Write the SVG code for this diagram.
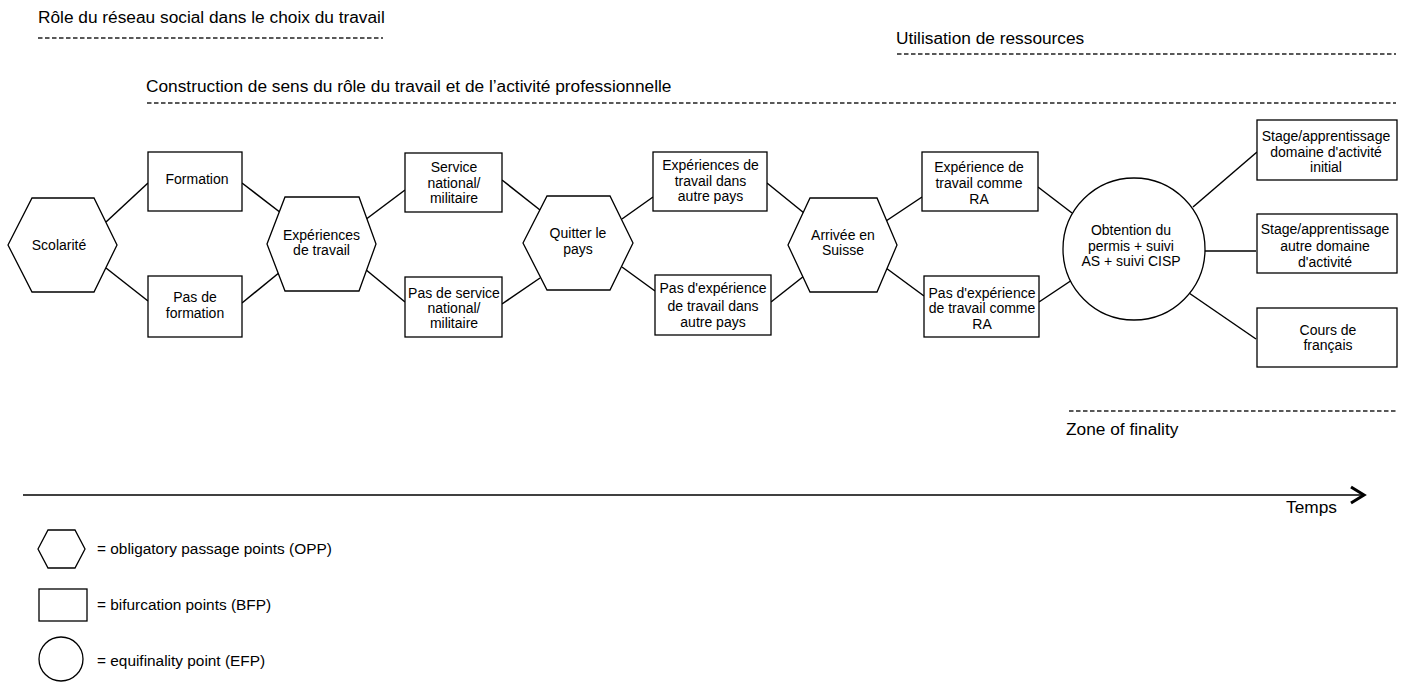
<svg xmlns="http://www.w3.org/2000/svg" width="1409" height="682" viewBox="0 0 1409 682">
<style>
  .bg{fill:#fff}
  .shape{fill:#fff;stroke:#000;stroke-width:1.3}
  .t{font-family:"Liberation Sans",Arial,sans-serif;font-size:14px;fill:#000;text-anchor:middle}
  .h{font-family:"Liberation Sans",Arial,sans-serif;font-size:17.3px;fill:#000}
  .lg{font-family:"Liberation Sans",Arial,sans-serif;font-size:15.4px;fill:#000}
  .dash{stroke:#222;stroke-width:1.3;stroke-dasharray:4.5 2.5;fill:none}
  .conn line{stroke:#000;stroke-width:1.5}
</style>
<rect class="bg" x="0" y="0" width="1409" height="682"/>

<g id="headers">
  <text class="h" x="38" y="23">Rôle du réseau social dans le choix du travail</text>
  <line class="dash" x1="38" y1="38" x2="383" y2="38"/>
  <text class="h" x="896" y="44">Utilisation de ressources</text>
  <line class="dash" x1="897" y1="54" x2="1396" y2="54"/>
  <text class="h" x="146" y="92">Construction de sens du rôle du travail et de l’activité professionnelle</text>
  <line class="dash" x1="147" y1="103" x2="1396" y2="103"/>
  <line class="dash" x1="1069" y1="411" x2="1397" y2="411"/>
  <text class="h" x="1066" y="435">Zone of finality</text>
</g>

<g id="connectors" class="conn">
  <line x1="106" y1="222" x2="148" y2="183"/>
  <line x1="106" y1="268" x2="148" y2="301"/>
  <line x1="242" y1="183" x2="281" y2="213"/>
  <line x1="242" y1="303" x2="280" y2="272"/>
  <line x1="365" y1="220" x2="405" y2="190"/>
  <line x1="365" y1="269" x2="405" y2="302"/>
  <line x1="502" y1="180" x2="540" y2="210"/>
  <line x1="502" y1="304" x2="540" y2="278"/>
  <line x1="622" y1="219" x2="653" y2="197"/>
  <line x1="622" y1="267" x2="655" y2="291"/>
  <line x1="767" y1="183" x2="804" y2="213"/>
  <line x1="771" y1="302" x2="804" y2="276"/>
  <line x1="886" y1="221" x2="922" y2="197"/>
  <line x1="886" y1="268" x2="924" y2="296"/>
  <line x1="1038" y1="187" x2="1072" y2="213"/>
  <line x1="1039" y1="302" x2="1072" y2="280"/>
  <line x1="1193" y1="207" x2="1257" y2="152"/>
  <line x1="1205" y1="251" x2="1256" y2="251"/>
  <line x1="1189" y1="293" x2="1256" y2="339"/>
</g>

<g id="n-scolarite">
  <polygon class="shape" points="8,245 32,198 94,198 117,245 94,292 32,292"/>
  <text class="t" x="59" y="250">Scolarité</text>
</g>
<g id="n-formation">
  <rect class="shape" x="148" y="152" width="94" height="59"/>
  <text class="t" x="197" y="184">Formation</text>
</g>
<g id="n-pas-formation">
  <rect class="shape" x="148" y="276" width="94" height="61"/>
  <text class="t" x="195" y="302">Pas de</text>
  <text class="t" x="195" y="318">formation</text>
</g>
<g id="n-experiences">
  <polygon class="shape" points="267,244 285,197 359,197 376,244 359,291 285,291"/>
  <text class="t" x="321.5" y="240">Expériences</text>
  <text class="t" x="321.5" y="255">de travail</text>
</g>
<g id="n-service">
  <rect class="shape" x="405" y="153" width="97" height="59"/>
  <text class="t" x="454" y="172">Service</text>
  <text class="t" x="454" y="188">national/</text>
  <text class="t" x="454" y="203">militaire</text>
</g>
<g id="n-pas-service">
  <rect class="shape" x="405" y="277" width="97" height="60"/>
  <text class="t" x="454" y="298">Pas de service</text>
  <text class="t" x="454" y="313">national/</text>
  <text class="t" x="454" y="328">militaire</text>
</g>
<g id="n-quitter">
  <polygon class="shape" points="523,243 547,196 610,196 633,243 610,290 547,290"/>
  <text class="t" x="578" y="238">Quitter le</text>
  <text class="t" x="578" y="254">pays</text>
</g>
<g id="n-exp-autre">
  <rect class="shape" x="653" y="152" width="114" height="59"/>
  <text class="t" x="710.5" y="170">Expériences de</text>
  <text class="t" x="710.5" y="186">travail dans</text>
  <text class="t" x="710.5" y="201">autre pays</text>
</g>
<g id="n-pas-exp-autre">
  <rect class="shape" x="655" y="275" width="116" height="60"/>
  <text class="t" x="713" y="293">Pas d'expérience</text>
  <text class="t" x="713" y="311">de travail dans</text>
  <text class="t" x="713" y="327">autre pays</text>
</g>
<g id="n-arrivee">
  <polygon class="shape" points="788,245 810,198 877,198 897,245 877,292 810,292"/>
  <text class="t" x="843" y="240">Arrivée en</text>
  <text class="t" x="843" y="255">Suisse</text>
</g>
<g id="n-exp-ra">
  <rect class="shape" x="922" y="152" width="116" height="59"/>
  <text class="t" x="979" y="172">Expérience de</text>
  <text class="t" x="979" y="188">travail comme</text>
  <text class="t" x="979" y="204">RA</text>
</g>
<g id="n-pas-exp-ra">
  <rect class="shape" x="924" y="276" width="115" height="61"/>
  <text class="t" x="982" y="298">Pas d'expérience</text>
  <text class="t" x="982" y="313">de travail comme</text>
  <text class="t" x="982" y="329">RA</text>
</g>
<g id="n-obtention">
  <circle class="shape" cx="1134" cy="249" r="71"/>
  <text class="t" x="1131" y="235">Obtention du</text>
  <text class="t" x="1131" y="251">permis + suivi</text>
  <text class="t" x="1131" y="266">AS + suivi CISP</text>
</g>
<g id="n-stage-initial">
  <rect class="shape" x="1257" y="120" width="140" height="60"/>
  <text class="t" x="1326" y="141">Stage/apprentissage</text>
  <text class="t" x="1326" y="157">domaine d'activité</text>
  <text class="t" x="1326" y="172">initial</text>
</g>
<g id="n-stage-autre">
  <rect class="shape" x="1257" y="214" width="140" height="59"/>
  <text class="t" x="1325" y="234">Stage/apprentissage</text>
  <text class="t" x="1325" y="251">autre domaine</text>
  <text class="t" x="1325" y="267">d'activité</text>
</g>
<g id="n-cours">
  <rect class="shape" x="1257" y="308" width="140" height="59"/>
  <text class="t" x="1328" y="335">Cours de</text>
  <text class="t" x="1328" y="350">français</text>
</g>

<g id="time-axis">
  <line x1="23" y1="495" x2="1363" y2="495" stroke="#000" stroke-width="1.5"/>
  <polyline points="1351,487 1364,495 1351,503" fill="none" stroke="#000" stroke-width="3"/>
  <text class="h" x="1286" y="513">Temps</text>
</g>

<g id="legend">
  <polygon class="shape" points="38,549 48,530 75,530 85,549 75,568 48,568"/>
  <text class="lg" x="97" y="554">= obligatory passage points (OPP)</text>
  <rect class="shape" x="39" y="589" width="48" height="32"/>
  <text class="lg" x="97" y="610">= bifurcation points (BFP)</text>
  <circle class="shape" cx="61" cy="659" r="22"/>
  <text class="lg" x="97" y="666">= equifinality point (EFP)</text>
</g>
</svg>
